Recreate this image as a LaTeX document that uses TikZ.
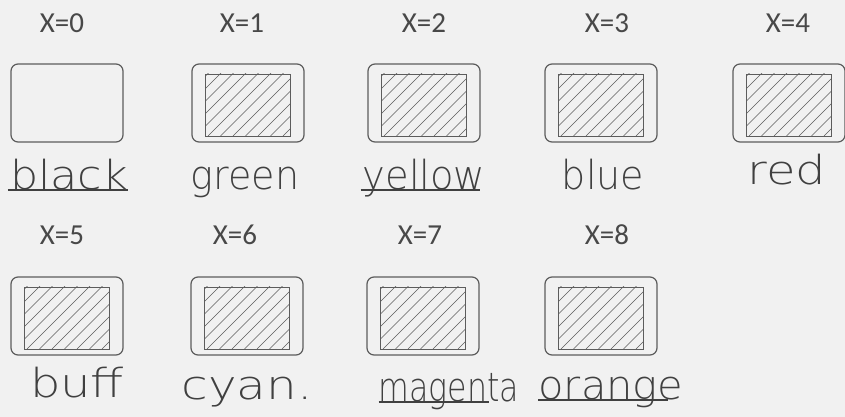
\documentclass[tikz,border=0pt]{standalone}
\usepackage{fontspec}
\usepackage{graphicx}
\setmainfont{Carlito}
\newfontfamily\mano{DejaVuSans-ExtraLight.ttf}
\usetikzlibrary{positioning}
\definecolor{papel}{HTML}{F1F1F1}
\definecolor{gris}{HTML}{5C5C5C}
\definecolor{tinta}{HTML}{484848}
\definecolor{lapiz}{HTML}{404040}
\newcommand{\ancho}[2]{\scalebox{#1}[1]{#2}}
\tikzset{
  marco/.style={draw=gris, line width=1.2pt, rounded corners=7pt,
    minimum width=112pt, minimum height=78pt, inner sep=0pt},
  rayado/.style={draw=gris, line width=0.9pt, minimum width=85pt,
    minimum height=62pt, inner sep=0pt,
    path picture={\foreach \desp in {-60,-47.5,...,85}
      \draw[gris, line width=0.6pt]
        ([xshift=\desp pt]path picture bounding box.south west) -- ++(75,75);}},
  valor/.style={text=tinta, font=\fontsize{29}{31}\selectfont},
  nombre/.style={text=lapiz, inner sep=0pt, anchor=base,
    font=\mano\fontsize{40}{44}\selectfont},
  raya/.style={lapiz, line width=1.2pt}
}

\begin{document}
\begin{tikzpicture}[x=1pt, y=1pt]
  \fill[papel] (0,0) rectangle (845,417);
  \useasboundingbox (0,0) rectangle (845,417);
  % fila de arriba
  \node[valor] (x0) at (62,394) {X=0};
  \node[valor] (x1) at (242,394) {X=1};
  \node[valor] (x2) at (424,394) {X=2};
  \node[valor] (x3) at (607,394) {X=3};
  \node[valor] (x4) at (788,394) {X=4};
  \node[marco] (p0) at (67,314) {};
  \node[marco] (p1) at (248,314) {};
  \node[marco] (p2) at (424,314) {};
  \node[marco] (p3) at (601,314) {};
  \node[marco] (p4) at (789,314) {};
  \node[rayado] (r1) at ([yshift=-2pt]p1.center) {};
  \node[rayado] (r2) at ([yshift=-2pt]p2.center) {};
  \node[rayado] (r3) at ([yshift=-2pt]p3.center) {};
  \node[rayado] (r4) at ([yshift=-2pt]p4.center) {};
  \node[nombre] (black) at (69,227) {\ancho{1.11}{black}};
  \node[nombre] (green) at (245,227) {\ancho{0.95}{green}};
  \node[nombre] (yellow) at (424,227) {\ancho{0.96}{yellow}};
  \node[nombre] (blue) at (603,227) {\ancho{0.95}{blue}};
  \node[nombre] (red) at (787,232) {\ancho{1.2}{red}};
  \draw[raya] ([xshift=-2pt]black.base west) -- (black.base east);
  \draw[raya] ([xshift=-2pt]yellow.base west) -- ([xshift=-6pt]yellow.base east);
  % fila de abajo
  \node[valor] (x5) at (62,182) {X=5};
  \node[valor] (x6) at (235,182) {X=6};
  \node[valor] (x7) at (420,182) {X=7};
  \node[valor] (x8) at (607,182) {X=8};
  \node[marco] (p5) at (67,101) {};
  \node[marco] (p6) at (247,101) {};
  \node[marco] (p7) at (423,101) {};
  \node[marco] (p8) at (601,101) {};
  \node[rayado] (r5) at ([yshift=-2pt]p5.center) {};
  \node[rayado] (r6) at ([yshift=-2pt]p6.center) {};
  \node[rayado] (r7) at ([yshift=-2pt]p7.center) {};
  \node[rayado] (r8) at ([yshift=-2pt]p8.center) {};
  \node[nombre] (buff) at (77,19) {\ancho{1.2}{buff}};
  \node[nombre] (cyan) at (247,17) {\ancho{1.21}{cyan.}};
  \node[nombre] (magenta) at (449,15) {\ancho{0.79}{magenta}};
  \node[nombre] (orange) at (611,17) {\ancho{1.04}{orange}};
  \draw[raya] (magenta.base west) -- ([xshift=-30pt]magenta.base east);
  \draw[raya] (orange.base west) -- ([xshift=-16pt]orange.base east);
\end{tikzpicture}
\end{document}
